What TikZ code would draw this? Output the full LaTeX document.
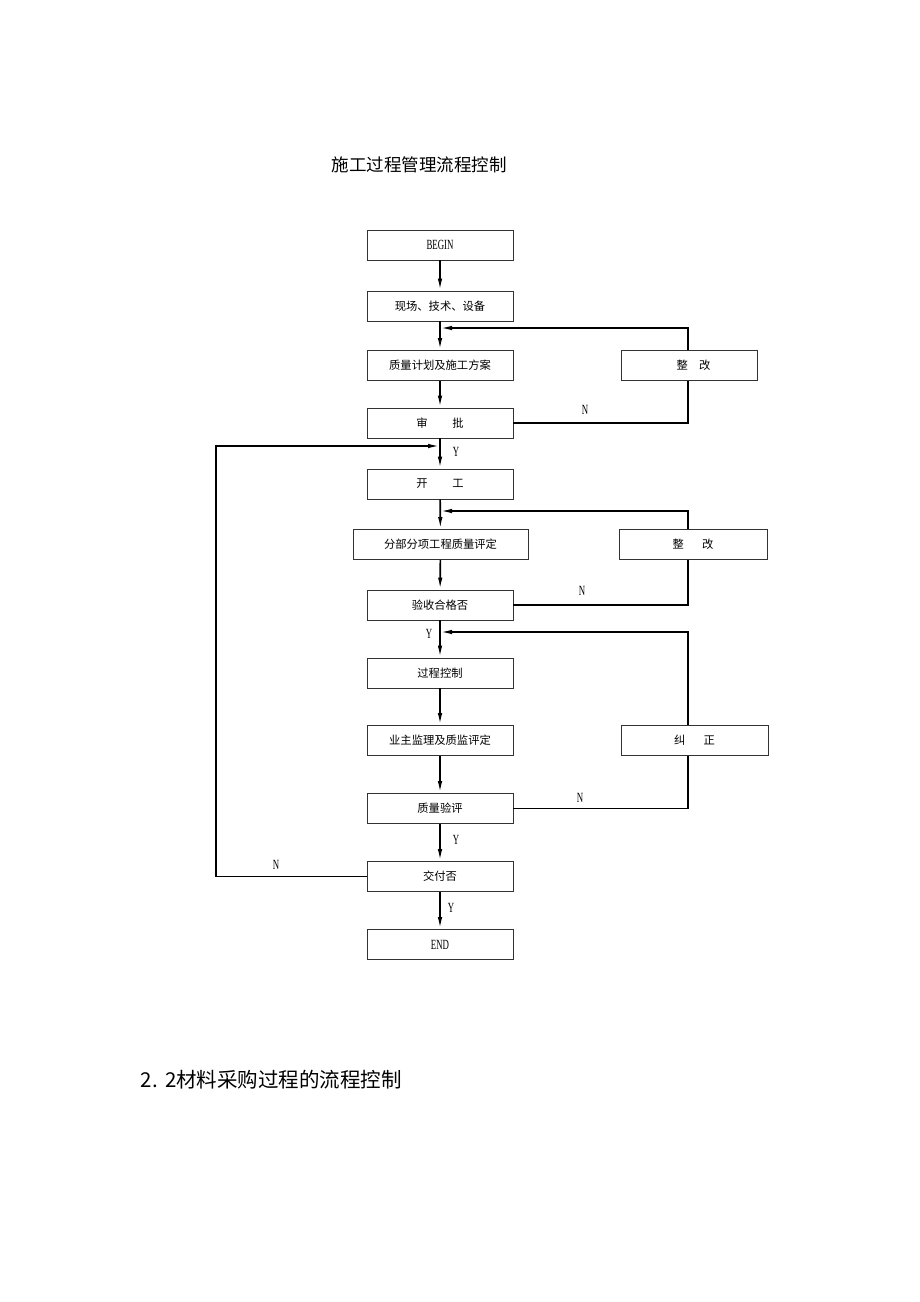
\documentclass[tikz,border=0pt]{standalone}
\usepackage{fontspec}
\setmainfont{Liberation Serif}
\newfontfamily\cjk{Noto Sans CJK SC}
\newfontfamily\latn[FakeStretch=0.63]{Liberation Serif}
\usetikzlibrary{arrows.meta}
\begin{document}
\begin{tikzpicture}[x=1pt,y=-1pt, line width=1.7pt, box/.style={
                draw=black!80,
                line width=0.9pt,
                minimum width=146pt,
                minimum height=30pt,
                inner sep=0pt,
                font=\cjk\fontsize{11.3}{13}\selectfont
              }, flow/.style={-{Latex[length=12pt,width=4.5pt]}},
              tag/.style={font=\latn\fontsize{14}{15}\selectfont, inner sep=0pt}]
    \useasboundingbox (0,0) rectangle (920,1302);

    \node[font=\cjk\fontsize{17.5}{20}\selectfont] (title) at (419,165) {施工过程管理流程控制};
    \node[anchor=west, font=\cjk\fontsize{20.5}{22}\selectfont, inner sep=0pt] (sub) at (140,1080) {2.\hspace{0.35em}2材料采购过程的流程控制};

    % main column
    \node[box, font=\latn\fontsize{14}{15}\selectfont] (begin) at (440,245) {BEGIN};
    \node[box] (site) at (440,306) {现场、技术、设备};
    \node[box] (plan) at (440,365.5) {质量计划及施工方案};
    \node[box] (approve) at (440,423) {审\hspace{2.2em}批};
    \node[box] (start) at (440,484) {开\hspace{2.2em}工};
    \node[box, minimum width=175pt] (assess) at (440.5,544.5) {分部分项工程质量评定};
    \node[box] (accept) at (440,605) {验收合格否};
    \node[box] (proc) at (440,673) {过程控制};
    \node[box] (owner) at (440,740.5) {业主监理及质监评定};
    \node[box] (qeval) at (440,808.5) {质量验评};
    \node[box] (deliver) at (440,876.5) {交付否};
    \node[box, font=\latn\fontsize{14}{15}\selectfont] (end) at (440,944.5) {END};

    % right column
    \node[box, minimum width=136pt] (fix1) at (689,365.5) {\hspace{0.8em}整\hspace{1em}改};
    \node[box, minimum width=148pt] (fix2) at (693,544.5) {整\hspace{1.6em}改};
    \node[box, minimum width=147pt] (correct) at (694.5,740.5) {纠\hspace{1.6em}正};

    \coordinate (rail) at (688,0);
    \coordinate (j1) at (440,328);
    \coordinate (j2) at (440,511);
    \coordinate (j3) at (440,632);
    \coordinate (j4) at (440,446);
    \coordinate (lcorner) at (216,446);

    \draw[flow] (begin) -- (site);
    \draw[flow] (site) -- (plan);
    \draw[flow] (plan) -- (approve);
    \draw[flow] (approve) -- (start);
    \draw[flow] (start) -- (assess);
    \draw[flow] (assess) -- (accept);
    \draw[flow] (accept) -- (proc);
    \draw[flow] (proc) -- (owner);
    \draw[flow] (owner) -- (qeval);
    \draw[flow] (qeval) -- (deliver);
    \draw[flow] (deliver) -- (end);

    % loops back
    \draw (approve.east) -| (rail |- fix1.south);
    \draw[flow] (rail |- fix1.north) |- (j1);
    \draw (accept.east) -| (rail |- fix2.south);
    \draw[flow] (rail |- fix2.north) |- (j2);
    \draw (qeval.east) -| (rail |- correct.south);
    \draw[flow] (rail |- correct.north) |- (j3);
    \draw[flow] (deliver.west) -| (lcorner) -- (j4);

    \node[tag] (n1) at (585,410) {N};
    \node[tag] (n2) at (582,591) {N};
    \node[tag] (n3) at (580,798) {N};
    \node[tag] (n4) at (276,865) {N};
    \node[tag] (y1) at (456,452) {Y};
    \node[tag] (y2) at (429,634) {Y};
    \node[tag] (y3) at (456,840) {Y};
    \node[tag] (y4) at (451,908) {Y};

\end{tikzpicture}
\end{document}
